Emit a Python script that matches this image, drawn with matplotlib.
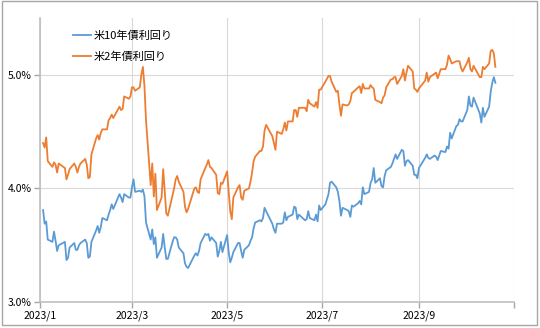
import datetime as dt
import matplotlib
matplotlib.use("Agg")
from matplotlib import pyplot as plt
from matplotlib.patches import Rectangle

plt.rcParams['font.family'] = ['Noto Sans CJK JP', 'DejaVu Sans']

# business days per month (2023) and yields (%)
days = {
    1: [3, 4, 5, 6, 9, 10, 11, 12, 13, 17, 18, 19, 20, 23, 24, 25, 26, 27, 30, 31],
    2: [1, 2, 3, 6, 7, 8, 9, 10, 13, 14, 15, 16, 17, 21, 22, 23, 24, 27, 28],
    3: [1, 2, 3, 6, 7, 8, 9, 10, 13, 14, 15, 16, 17, 20, 21, 22, 23, 24, 27, 28, 29, 30, 31],
    4: [3, 4, 5, 6, 10, 11, 12, 13, 14, 17, 18, 19, 20, 21, 24, 25, 26, 27, 28],
    5: [1, 2, 3, 4, 5, 8, 9, 10, 11, 12, 15, 16, 17, 18, 19, 22, 23, 24, 25, 26, 30, 31],
    6: [1, 2, 5, 6, 7, 8, 9, 12, 13, 14, 15, 16, 20, 21, 22, 23, 26, 27, 28, 29, 30],
    7: [3, 5, 6, 7, 10, 11, 12, 13, 14, 17, 18, 19, 20, 21, 24, 25, 26, 27, 28, 31],
    8: [1, 2, 3, 4, 7, 8, 9, 10, 11, 14, 15, 16, 17, 18, 21, 22, 23, 24, 25, 28, 29, 30, 31],
    9: [1, 5, 6, 7, 8, 11, 12, 13, 14, 15, 18, 19, 20, 21, 22, 25, 26, 27, 28, 29],
    10: [2, 3, 4, 5, 6, 10, 11, 12, 13, 16, 17, 18, 19, 20],
}

us10y = [
    3.81, 3.69, 3.71, 3.55, 3.53, 3.62, 3.54, 3.45, 3.50, 3.53, 3.37, 3.39, 3.48, 3.52, 3.46, 3.46, 3.50, 3.52, 3.55, 3.52,
    3.39, 3.40, 3.53, 3.63, 3.67, 3.61, 3.66, 3.74, 3.72, 3.77, 3.81, 3.86, 3.82, 3.95, 3.92, 3.88, 3.95, 3.92, 3.92,
    4.01, 4.08, 3.97, 3.98, 3.97, 3.99, 3.93, 3.70, 3.55, 3.64, 3.51, 3.57, 3.39, 3.48, 3.60, 3.48, 3.38, 3.38, 3.53, 3.57, 3.57, 3.55, 3.48,
    3.43, 3.34, 3.31, 3.30, 3.41, 3.43, 3.41, 3.45, 3.52, 3.60, 3.59, 3.60, 3.54, 3.57, 3.52, 3.40, 3.45, 3.53, 3.44,
    3.59, 3.44, 3.35, 3.39, 3.44, 3.52, 3.52, 3.45, 3.39, 3.46, 3.50, 3.54, 3.57, 3.65, 3.70, 3.72, 3.71, 3.74, 3.83, 3.80, 3.69, 3.64,
    3.61, 3.69, 3.69, 3.70, 3.79, 3.72, 3.75, 3.77, 3.84, 3.83, 3.73, 3.77, 3.72, 3.73, 3.80, 3.74, 3.72, 3.77, 3.71, 3.85, 3.81,
    3.86, 3.95, 4.05, 4.06, 4.01, 3.97, 3.89, 3.76, 3.83, 3.81, 3.80, 3.75, 3.85, 3.84, 3.87, 3.89, 3.86, 4.01, 3.95, 3.97,
    4.05, 4.08, 4.18, 4.05, 4.09, 4.02, 4.01, 4.11, 4.16, 4.19, 4.22, 4.26, 4.30, 4.26, 4.34, 4.33, 4.20, 4.24, 4.25, 4.20, 4.12, 4.12, 4.09,
    4.18, 4.27, 4.30, 4.27, 4.26, 4.29, 4.28, 4.25, 4.29, 4.33, 4.32, 4.37, 4.35, 4.49, 4.44, 4.55, 4.56, 4.61, 4.59, 4.59,
    4.69, 4.81, 4.73, 4.72, 4.80, 4.66, 4.58, 4.71, 4.63, 4.72, 4.85, 4.93, 4.98, 4.93,
]

us2y = [
    4.40, 4.36, 4.45, 4.24, 4.19, 4.23, 4.21, 4.14, 4.22, 4.18, 4.08, 4.12, 4.17, 4.22, 4.19, 4.14, 4.19, 4.22, 4.26, 4.21,
    4.09, 4.10, 4.30, 4.44, 4.47, 4.43, 4.49, 4.52, 4.52, 4.60, 4.62, 4.65, 4.62, 4.72, 4.69, 4.70, 4.81, 4.79, 4.81,
    4.89, 4.89, 4.86, 4.89, 5.00, 5.07, 4.90, 4.60, 4.03, 4.22, 3.93, 4.13, 3.81, 3.92, 4.17, 3.98, 3.78, 3.76, 3.94, 4.00, 4.08, 4.11, 4.06,
    3.97, 3.84, 3.79, 3.82, 4.00, 4.01, 3.97, 3.96, 4.08, 4.18, 4.21, 4.25, 4.19, 4.18, 4.12, 3.96, 3.95, 4.05, 4.04,
    4.15, 3.97, 3.80, 3.73, 3.92, 4.01, 4.03, 3.92, 3.90, 3.98, 4.00, 4.06, 4.14, 4.24, 4.28, 4.33, 4.33, 4.37, 4.51, 4.56, 4.46, 4.40,
    4.34, 4.50, 4.48, 4.52, 4.58, 4.51, 4.59, 4.59, 4.69, 4.69, 4.63, 4.71, 4.71, 4.68, 4.78, 4.75, 4.72, 4.76, 4.71, 4.87, 4.87,
    4.94, 4.99, 4.99, 4.94, 4.85, 4.86, 4.74, 4.64, 4.74, 4.73, 4.74, 4.77, 4.84, 4.85, 4.89, 4.90, 4.84, 4.92, 4.88, 4.88,
    4.91, 4.89, 4.88, 4.78, 4.76, 4.75, 4.80, 4.82, 4.89, 4.96, 4.96, 4.98, 4.98, 4.92, 4.99, 5.05, 4.95, 5.02, 5.08, 5.03, 4.88, 4.87, 4.85,
    4.88, 4.95, 5.02, 4.94, 4.98, 5.01, 5.02, 4.97, 5.01, 5.05, 5.05, 5.09, 5.17, 5.14, 5.10, 5.12, 5.12, 5.12, 5.06, 5.03,
    5.11, 5.15, 5.05, 5.03, 5.08, 4.98, 4.98, 5.07, 5.05, 5.10, 5.21, 5.22, 5.19, 5.07,
]

tick_months = [1, 3, 5, 7, 9, 11]
tick_labels = ["2023/1", "2023/3", "2023/5", "2023/7", "2023/9", ""]

dates = [dt.date(2023, m, d) for m in days for d in days[m]]

fig = plt.figure(figsize=(5.4, 3.28), dpi=100)
ax = fig.add_axes([0.074, 0.079, 0.878, 0.866])

ax.plot(dates, us10y, color="#5B9BD5", lw=1.3, label="米10年債利回り")
ax.plot(dates, us2y, color="#ED7D31", lw=1.3, label="米2年債利回り")

ax.set_xlim(dt.date(2023, 1, 1), dt.date(2023, 11, 1))
ax.set_ylim(3.0, 5.5)
ax.set_xticks([dt.date(2023, m, 1) for m in tick_months])
ax.set_xticklabels(tick_labels)
ax.set_yticks([3.0, 4.0, 5.0])
ax.set_yticklabels(["%.1f%%" % v for v in [3.0, 4.0, 5.0]])

ax.grid(True, color="#d9d9d9", lw=0.8)
ax.set_axisbelow(True)
for s in ["top", "right"]:
    ax.spines[s].set_visible(False)
for s in ["left", "bottom"]:
    ax.spines[s].set_color("#bfbfbf")
    ax.spines[s].set_linewidth(1.2)
ax.tick_params(colors="#a6a6a6", labelcolor="black", labelsize=7.5, length=4, width=1)
ax.tick_params(axis="x", pad=2)
ax.tick_params(axis="y", pad=2)

ax.legend(loc="upper left", bbox_to_anchor=(0.07, 0.955), frameon=False,
          borderpad=0, borderaxespad=0, fontsize=8, handlelength=1.6,
          handletextpad=0.25, labelspacing=0.95)

fig.patches.append(Rectangle((0.003, 0.008), 0.992, 0.988, transform=fig.transFigure,
                             fill=False, edgecolor="#a6a6a6", lw=1))

fig.savefig("out.png", dpi=100)
